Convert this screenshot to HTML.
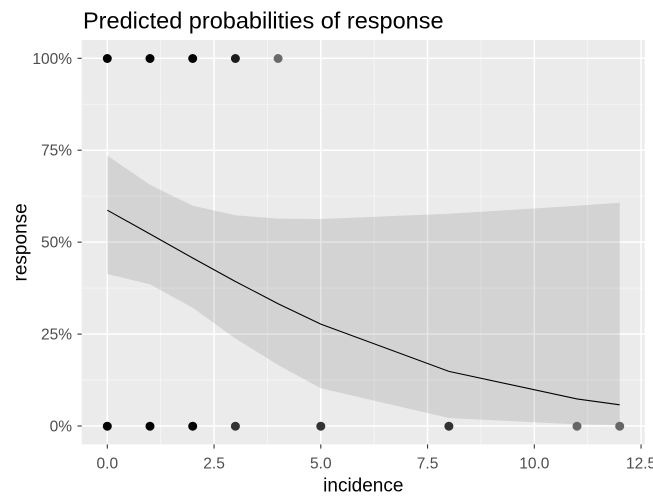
<!DOCTYPE html>
<html>
<head>
<meta charset="utf-8">
<style>
html,body{margin:0;padding:0;background:#fff;}
svg{display:block;}
text{font-family:"Liberation Sans",Arial,sans-serif;}
</style>
</head>
<body>
<svg width="653" height="502" viewBox="0 0 653 502" xmlns="http://www.w3.org/2000/svg">
<rect x="0" y="0" width="653" height="502" fill="#ffffff"/>
<!-- panel -->
<rect x="81.7" y="40" width="563" height="404.4" fill="#ebebeb"/>
<!-- minor grid -->
<g stroke="#f7f7f7" stroke-width="0.8">
<line x1="160.7" y1="40" x2="160.7" y2="444.4"/>
<line x1="267.4" y1="40" x2="267.4" y2="444.4"/>
<line x1="374.2" y1="40" x2="374.2" y2="444.4"/>
<line x1="480.9" y1="40" x2="480.9" y2="444.4"/>
<line x1="587.7" y1="40" x2="587.7" y2="444.4"/>
<line x1="81.7" y1="380.05" x2="644.7" y2="380.05"/>
<line x1="81.7" y1="288.1" x2="644.7" y2="288.1"/>
<line x1="81.7" y1="196.2" x2="644.7" y2="196.2"/>
<line x1="81.7" y1="104.25" x2="644.7" y2="104.25"/>
</g>
<!-- major grid -->
<g stroke="#ffffff" stroke-width="1.5">
<line x1="107.3" y1="40" x2="107.3" y2="444.4"/>
<line x1="214.05" y1="40" x2="214.05" y2="444.4"/>
<line x1="320.8" y1="40" x2="320.8" y2="444.4"/>
<line x1="427.55" y1="40" x2="427.55" y2="444.4"/>
<line x1="534.3" y1="40" x2="534.3" y2="444.4"/>
<line x1="641.05" y1="40" x2="641.05" y2="444.4"/>
<line x1="81.7" y1="426" x2="644.7" y2="426"/>
<line x1="81.7" y1="334.1" x2="644.7" y2="334.1"/>
<line x1="81.7" y1="242.15" x2="644.7" y2="242.15"/>
<line x1="81.7" y1="150.2" x2="644.7" y2="150.2"/>
<line x1="81.7" y1="58.3" x2="644.7" y2="58.3"/>
</g>
<!-- ribbon -->
<polygon fill="#000000" fill-opacity="0.1" points="107.3,155.5 150,184.8 192.7,205.7 235.4,215.3 278.1,218.6 320.8,219 448.9,213.8 577,205.7 619.7,202.8 619.7,425.1 577,424.4 448.9,418 320.8,388.3 278.1,365 235.4,338.5 192.7,307.8 150,284.4 107.3,274"/>
<!-- line -->
<polyline fill="none" stroke="#000000" stroke-width="1.1" points="107.3,210.2 150,234 192.7,258 235.4,281.5 278.1,303.7 320.8,324.1 448.9,371.4 577,398.9 619.7,404.8"/>
<!-- points -->
<g>
<circle cx="107.3" cy="58.5" r="4.5" fill="#000"/>
<circle cx="150" cy="58.5" r="4.5" fill="#000"/>
<circle cx="192.7" cy="58.5" r="4.5" fill="#050505"/>
<circle cx="235.4" cy="58.5" r="4.5" fill="#1c1c1c"/>
<circle cx="278.1" cy="58.5" r="4.5" fill="#6a6a6a"/>
<circle cx="107.3" cy="426.2" r="4.5" fill="#000"/>
<circle cx="150" cy="426.2" r="4.5" fill="#000"/>
<circle cx="192.7" cy="426.2" r="4.5" fill="#050505"/>
<circle cx="235.4" cy="426.2" r="4.5" fill="#333"/>
<circle cx="320.8" cy="426.2" r="4.5" fill="#333"/>
<circle cx="448.9" cy="426.2" r="4.5" fill="#333"/>
<circle cx="577" cy="426.2" r="4.5" fill="#666"/>
<circle cx="619.7" cy="426.2" r="4.5" fill="#666"/>
</g>
<!-- ticks -->
<g stroke="#333333" stroke-width="1.1">
<line x1="77.5" y1="426" x2="81.7" y2="426"/>
<line x1="77.5" y1="334.1" x2="81.7" y2="334.1"/>
<line x1="77.5" y1="242.15" x2="81.7" y2="242.15"/>
<line x1="77.5" y1="150.2" x2="81.7" y2="150.2"/>
<line x1="77.5" y1="58.3" x2="81.7" y2="58.3"/>
<line x1="107.3" y1="444.4" x2="107.3" y2="448.6"/>
<line x1="214.05" y1="444.4" x2="214.05" y2="448.6"/>
<line x1="320.8" y1="444.4" x2="320.8" y2="448.6"/>
<line x1="427.55" y1="444.4" x2="427.55" y2="448.6"/>
<line x1="534.3" y1="444.4" x2="534.3" y2="448.6"/>
<line x1="641.05" y1="444.4" x2="641.05" y2="448.6"/>
</g>
<!-- tick labels -->
<g fill="#4d4d4d" font-size="15.5" text-anchor="end">
<text x="72" y="431.5">0%</text>
<text x="72" y="339.6">25%</text>
<text x="72" y="247.7">50%</text>
<text x="72" y="155.7">75%</text>
<text x="72" y="63.8">100%</text>
</g>
<g fill="#4d4d4d" font-size="15.5" text-anchor="middle">
<text x="107.3" y="468.3">0.0</text>
<text x="214.05" y="468.3">2.5</text>
<text x="320.8" y="468.3">5.0</text>
<text x="427.55" y="468.3">7.5</text>
<text x="534.3" y="468.3">10.0</text>
<text x="641.05" y="468.3">12.5</text>
</g>
<!-- axis titles -->
<text x="363.3" y="491.7" font-size="19" text-anchor="middle" fill="#000">incidence</text>
<text x="0" y="0" font-size="19" text-anchor="middle" fill="#000" transform="translate(26.7,242.4) rotate(-90)">response</text>
<!-- title -->
<text x="83" y="28.3" font-size="23.5" fill="#000">Predicted probabilities of response</text>
</svg>
</body>
</html>
